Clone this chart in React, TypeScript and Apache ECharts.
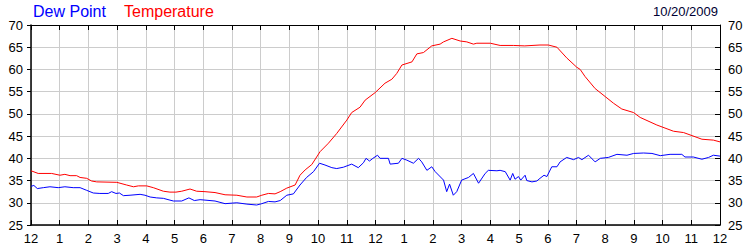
import React, { useEffect, useRef } from "react";
import * as echarts from "echarts";

const legendNames = ["Dew Point", "Temperature"];
const dateLabel = "10/20/2009";

const yMin = 25;
const yMax = 70;
const yStep = 5;
const xMin = 0;
const xMax = 24;

// hour-of-day (0..24), value in °F
const temperature: [number, number][] = [
  [0, 37.2], [0.25, 36.6], [0.72, 36.6], [1.01, 36.2], [1.18, 36.4], [1.36, 36.1],
  [1.59, 36.1], [1.71, 35.7], [1.94, 35.5], [2.11, 34.9], [2.29, 34.7], [2.99, 34.6],
  [3.33, 34.0], [3.57, 33.6], [3.74, 33.8], [4.03, 33.8], [4.26, 33.4], [4.61, 32.6],
  [4.84, 32.4], [5.05, 32.4], [5.25, 32.6], [5.54, 33.1], [5.77, 32.6], [6.06, 32.5],
  [6.41, 32.3], [6.76, 31.8], [7.17, 31.7], [7.52, 31.3], [7.86, 31.3], [8.04, 31.7],
  [8.27, 32.1], [8.5, 32.0], [8.68, 32.5], [8.91, 33.3], [9.2, 34.0], [9.37, 36.2],
  [9.55, 37.4], [9.78, 38.6], [9.95, 40.3], [10.07, 41.5], [10.36, 43.4], [10.65, 45.6],
  [11.0, 48.6], [11.17, 50.3], [11.46, 51.5], [11.64, 53.1], [11.99, 54.8], [12.33, 56.9],
  [12.57, 57.8], [12.74, 59.1], [12.92, 61.0], [13.27, 61.7], [13.44, 63.5], [13.67, 63.8],
  [13.96, 65.3], [14.25, 65.7], [14.37, 66.2], [14.66, 67.0], [14.95, 66.4], [15.18, 66.2],
  [15.41, 65.7], [15.53, 65.9], [16.0, 65.9], [16.34, 65.4], [16.8, 65.4], [17.2, 65.3],
  [17.73, 65.5], [18.02, 65.5], [18.32, 65.0], [18.66, 62.6], [19.01, 60.5], [19.13, 60.0],
  [19.3, 58.4], [19.65, 55.7], [20.0, 53.9], [20.29, 52.4], [20.58, 51.1], [20.99, 50.3],
  [21.22, 49.2], [21.8, 47.5], [22.38, 46.1], [22.73, 45.8], [23.2, 44.7], [23.37, 44.3],
  [23.77, 44.1], [24, 43.7],
];

const dewPoint: [number, number][] = [
  [0, 33.7], [0.1, 33.9], [0.22, 33.2], [0.43, 33.4], [0.66, 33.6], [0.95, 33.4],
  [1.18, 33.6], [1.47, 33.4], [1.71, 33.4], [1.94, 32.8], [2.17, 32.2], [2.4, 32.1],
  [2.69, 32.1], [2.81, 32.5], [2.96, 32.1], [3.08, 32.2], [3.22, 31.6], [3.45, 31.7],
  [3.8, 31.9], [3.97, 31.7], [4.15, 31.3], [4.38, 31.1], [4.61, 31.0], [4.84, 30.6],
  [4.96, 30.4], [5.25, 30.4], [5.5, 31.1], [5.69, 30.5], [5.89, 30.7], [6.41, 30.4],
  [6.76, 29.8], [7.17, 30.0], [7.52, 29.7], [7.86, 29.5], [8.04, 29.8], [8.27, 30.3],
  [8.5, 30.2], [8.68, 30.5], [8.91, 31.7], [9.14, 32.0], [9.37, 34.0], [9.6, 35.7],
  [9.84, 37.0], [10.05, 38.9], [10.24, 38.5], [10.48, 37.9], [10.65, 37.7], [10.88, 38.0],
  [11.17, 38.7], [11.4, 37.9], [11.58, 39.0], [11.67, 40.0], [11.79, 39.4], [11.91, 40.0],
  [12.07, 40.7], [12.16, 40.0], [12.45, 40.0], [12.51, 38.7], [12.8, 38.9], [12.92, 40.0],
  [13.09, 39.6], [13.32, 38.9], [13.5, 40.0], [13.61, 39.2], [13.79, 37.3], [13.96, 38.1],
  [14.08, 37.0], [14.37, 35.1], [14.48, 32.5], [14.58, 34.2], [14.71, 31.7], [14.83, 32.5],
  [15.0, 35.1], [15.24, 35.7], [15.41, 36.6], [15.59, 34.4], [15.82, 36.6], [15.93, 37.3],
  [16.23, 37.2], [16.34, 37.3], [16.52, 37.0], [16.69, 35.1], [16.78, 36.6], [16.86, 35.3],
  [16.98, 35.9], [17.06, 35.1], [17.21, 36.2], [17.27, 35.0], [17.45, 34.7], [17.62, 34.9],
  [17.73, 35.5], [17.87, 36.2], [17.97, 35.9], [18.14, 38.1], [18.32, 38.1], [18.43, 39.2],
  [18.66, 40.2], [18.9, 39.7], [19.07, 40.2], [19.19, 39.7], [19.42, 40.7], [19.65, 39.2],
  [19.83, 40.0], [20.11, 40.2], [20.41, 40.9], [20.76, 40.7], [20.99, 41.1], [21.34, 41.2],
  [21.63, 41.1], [21.92, 40.6], [22.26, 40.9], [22.67, 40.9], [22.78, 40.3], [23.07, 40.3],
  [23.37, 39.8], [23.6, 40.2], [23.77, 40.7], [24, 40.5],
];

const FONT = "'Liberation Sans', Arial, sans-serif";

export default function App() {
  const ref = useRef<HTMLDivElement>(null);
  useEffect(() => {
    if (!ref.current) return;
    const chart = echarts.init(ref.current, null, { renderer: "svg" });
    const hourLabel = (v: number) => {
      const h = Math.round(v) % 12;
      return String(h === 0 ? 12 : h);
    };
    const baseX = {
      type: "value" as const,
      min: xMin,
      max: xMax,
      interval: 1,
    };
    const baseY = {
      type: "value" as const,
      min: yMin,
      max: yMax,
      interval: yStep,
    };
    chart.setOption({
      animation: false,
      backgroundColor: "#ffffff",
      grid: { left: 31, right: 30, top: 25, bottom: 25, containLabel: false },
      xAxis: [
        {
          ...baseX,
          position: "bottom",
          axisLine: { show: true, lineStyle: { color: "#000", width: 1.5 } },
          axisTick: { show: true, inside: true, length: 5, lineStyle: { color: "#000" } },
          axisLabel: {
            show: true,
            margin: 7,
            fontSize: 13,
            fontFamily: FONT,
            color: "#000",
            formatter: hourLabel,
          },
          splitLine: { show: true, lineStyle: { color: "#cccccc", width: 1 } },
        },
        {
          ...baseX,
          position: "top",
          axisLine: { show: true, onZero: false, lineStyle: { color: "#000", width: 1 } },
          axisTick: { show: true, inside: true, length: 5, lineStyle: { color: "#000" } },
          axisLabel: { show: false },
          splitLine: { show: false },
        },
      ],
      yAxis: [
        {
          ...baseY,
          position: "left",
          axisLine: { show: true, onZero: false, lineStyle: { color: "#000", width: 1.5 } },
          axisTick: { show: true, inside: false, length: 4, lineStyle: { color: "#000" } },
          axisLabel: { show: true, margin: 8, fontSize: 13, fontFamily: FONT, color: "#000" },
          splitLine: { show: true, lineStyle: { color: "#cccccc", width: 1 } },
        },
        {
          ...baseY,
          position: "right",
          axisLine: { show: true, onZero: false, lineStyle: { color: "#000", width: 1 } },
          axisTick: { show: true, inside: true, length: 5, lineStyle: { color: "#000" } },
          axisLabel: { show: true, margin: 8, fontSize: 13, fontFamily: FONT, color: "#000" },
          splitLine: { show: false },
        },
      ],
      graphic: [
        {
          type: "text",
          left: 33,
          top: 3,
          style: { text: legendNames[0], fill: "#0000ff", font: `16px ${FONT}` },
        },
        {
          type: "text",
          left: 124,
          top: 3,
          style: { text: legendNames[1], fill: "#ff0000", font: `16px ${FONT}` },
        },
        {
          type: "text",
          right: 32,
          top: 5,
          style: { text: dateLabel, fill: "#000033", font: `13px ${FONT}` },
        },
      ],
      series: [
        {
          name: legendNames[0],
          type: "line",
          xAxisIndex: 0,
          yAxisIndex: 0,
          data: dewPoint,
          showSymbol: false,
          symbol: "none",
          lineStyle: { color: "#0000ff", width: 1 },
          silent: true,
        },
        {
          name: legendNames[1],
          type: "line",
          xAxisIndex: 0,
          yAxisIndex: 0,
          data: temperature,
          showSymbol: false,
          symbol: "none",
          lineStyle: { color: "#ff0000", width: 1 },
          silent: true,
        },
      ],
    });
    return () => chart.dispose();
  }, []);
  return (
    <div
      ref={ref}
      style={{ position: "fixed", left: 0, top: 0, width: 750, height: 250, background: "#fff" }}
    />
  );
}
